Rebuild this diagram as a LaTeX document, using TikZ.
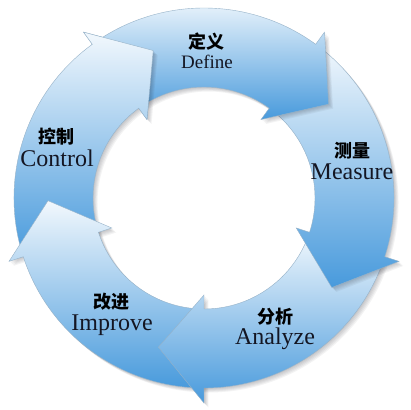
\documentclass[tikz,border=0pt]{standalone}
\usepackage{fontspec}
\setmainfont{Liberation Serif}
\newfontfamily\cjk{Noto Sans CJK SC}
\definecolor{lightc}{RGB}{242,248,253}
\definecolor{darkc}{RGB}{72,154,220}
\definecolor{edgec}{RGB}{150,178,200}
\definecolor{shadowc}{RGB}{40,40,50}
\definecolor{textc}{RGB}{20,22,35}
\tikzset{
  ringarrow/.style={insert path={({#1+72}:190) arc[start angle={#1+72}, end angle=#1, radius=190]
     -- (#1:205) -- ({#1-17}:156) -- (#1:97) -- (#1:111)
     arc[start angle=#1, end angle={#1+72}, radius=111] -- cycle}},
  arrowfill/.style={top color=lightc, bottom color=darkc, draw=edgec, line width=0.4pt},
  zh/.style={font=\cjk\bfseries\fontsize{18}{18}\selectfont, text=black, inner sep=0pt},
  en/.style={font=\fontsize{24}{24}\selectfont, text=textc, inner sep=0pt}
}
\newcommand\ringshadow[1]{%
  \foreach \k in {1,...,5}{\fill[shadowc, opacity=0.055, shift={(\k*0.9,-\k*0.9)}, ringarrow=#1];}}
\newcommand\drawringarrow[1]{%
  \ringshadow{#1}%
  \path[arrowfill, ringarrow=#1];}
\begin{document}
\begin{tikzpicture}[x=1pt,y=1pt]
\useasboundingbox[fill=white] (-204,-212) rectangle (206,198);
% order: each head lies over the next arrow's tail
\drawringarrow{126}  % Control
\drawringarrow{198}  % Improve
\drawringarrow{270}  % Analyze
\drawringarrow{-18}  % Measure
\drawringarrow{54}   % Define
% Control head again over the Define tail
\begin{scope}
  \clip (0,0) -- (95:240) arc[start angle=95, end angle=126.6, radius=240] -- cycle;
  \begin{scope}
    \clip[ringarrow=54];
    \ringshadow{126}
  \end{scope}
  \path[arrowfill, ringarrow=126];
\end{scope}
% labels
\node[zh] (zdef) at (3,156) {定义};
\node[en, font=\fontsize{19}{19}\selectfont] (edef) at (3,136) {Define};
\node[zh] (zmea) at (148,47) {测量};
\node[en] (emea) at (148,26) {Measure};
\node[zh] (zana) at (71,-119) {分析};
\node[en] (eana) at (71,-141) {Analyze};
\node[zh] (zimp) at (-92,-104) {改进};
\node[en] (eimp) at (-92,-127) {Improve};
\node[zh] (zcon) at (-147,61) {控制};
\node[en] (econ) at (-147,40) {Control};
\end{tikzpicture}
\end{document}
